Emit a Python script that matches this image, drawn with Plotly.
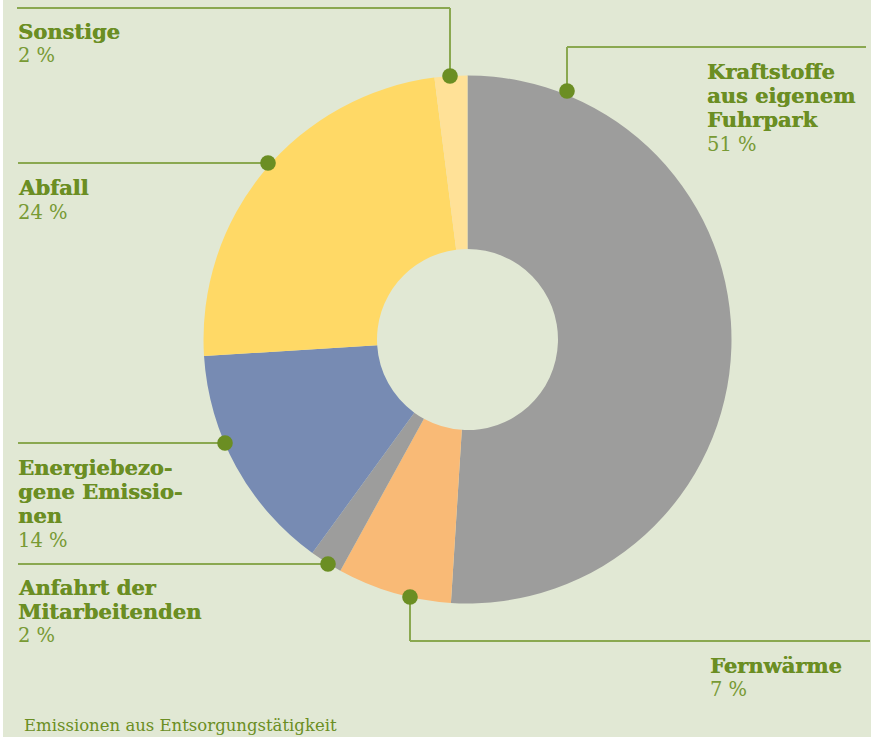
import plotly.graph_objects as go

# ---- data ----
categories = ["Kraftstoffe aus eigenem Fuhrpark", "Fernwärme", "Anfahrt der Mitarbeitenden",
              "Energiebezogene Emissionen", "Abfall", "Sonstige"]
values = [51, 7, 2, 14, 24, 2]
label_lines = [["Kraftstoffe", "aus eigenem", "Fuhrpark"], ["Fernwärme"], ["Anfahrt der", "Mitarbeitenden"],
               ["Energiebezo-", "gene Emissio-", "nen"], ["Abfall"], ["Sonstige"]]
slice_colors = ["#9d9d9c", "#f9ba76", "#9d9d9c", "#778bb3", "#ffd966", "#ffe197"]
caption = "Emissionen aus Entsorgungstätigkeit"

# ---- layout helpers (pixels) ----
W, H = 871, 737
BG = "#e1e8d4"
GREEN = "#6b8e23"
LINE = "#8aa850"
def px(x): return x / W
def py(y): return 1 - y / H

cx, cy, R = 467.5, 339.5, 264
hole = 90.5 / R

# label layout: text x, first line centre y, dot, leader path points
label_layout = [
    dict(x=707, y=71, dot=(567, 91), path=[(567, 91), (567, 47), (866, 47)]),
    dict(x=710, y=665, dot=(410, 597), path=[(410, 597), (410, 641), (870, 641)]),
    dict(x=18, y=587, dot=(328, 564), path=[(328, 564), (18, 564)]),
    dict(x=18, y=467, dot=(225, 443), path=[(225, 443), (18, 443)]),
    dict(x=18, y=188, dot=(268, 163), path=[(268, 163), (18, 163)]),
    dict(x=18, y=31, dot=(450, 76), path=[(450, 76), (450, 8), (17, 8)]),
]
LH = 24.4

fig = go.Figure(go.Pie(
    labels=categories, values=values, sort=False, direction="clockwise", rotation=0,
    hole=hole, marker=dict(colors=slice_colors, line=dict(width=0)),
    textinfo="none", hoverinfo="label+percent", showlegend=False,
    domain=dict(x=[px(cx - R), px(cx + R)], y=[py(cy + R), py(cy - R)]),
))

shapes = [dict(type="rect", xref="paper", yref="paper", x0=0, x1=px(3), y0=0, y1=1,
               fillcolor="white", line=dict(width=0), layer="above")]
annotations = []
for lines, v, lay in zip(label_lines, values, label_layout):
    pts = lay["path"]
    for (x0, y0), (x1, y1) in zip(pts[:-1], pts[1:]):
        shapes.append(dict(type="line", xref="paper", yref="paper", x0=px(x0), y0=py(y0),
                           x1=px(x1), y1=py(y1), line=dict(color=LINE, width=2), layer="above"))
    dx, dy = lay["dot"]
    r = 7.8
    shapes.append(dict(type="circle", xref="paper", yref="paper", x0=px(dx - r), x1=px(dx + r),
                       y0=py(dy + r), y1=py(dy - r), fillcolor=GREEN, line=dict(width=0), layer="above"))
    y = lay["y"]
    for ln in lines:
        annotations.append(dict(text="<b>" + ln + "</b>", x=px(lay["x"] - 2), y=py(y), xref="paper", yref="paper",
                                xanchor="left", yanchor="middle", showarrow=False,
                                font=dict(family="DejaVu Serif", size=21, color=GREEN,
                                          shadow="0.4px 0 0 " + GREEN)))
        y += LH
    annotations.append(dict(text=f"{v} %", x=px(lay["x"] - 2), y=py(y), xref="paper", yref="paper",
                            xanchor="left", yanchor="middle", showarrow=False,
                            font=dict(family="DejaVu Serif", size=19.5, color="#789a34")))

annotations.append(dict(text=caption, x=px(22), y=py(737), xref="paper", yref="paper",
                        xanchor="left", yanchor="bottom", showarrow=False,
                        font=dict(family="DejaVu Serif", size=16.5, color=GREEN)))

fig.update_layout(width=W, height=H, margin=dict(l=0, r=0, t=0, b=0),
                  paper_bgcolor=BG, plot_bgcolor=BG, shapes=shapes, annotations=annotations)
fig.write_html("out.html", config={"displayModeBar": False},
               post_script="document.body.style.margin='0';")
